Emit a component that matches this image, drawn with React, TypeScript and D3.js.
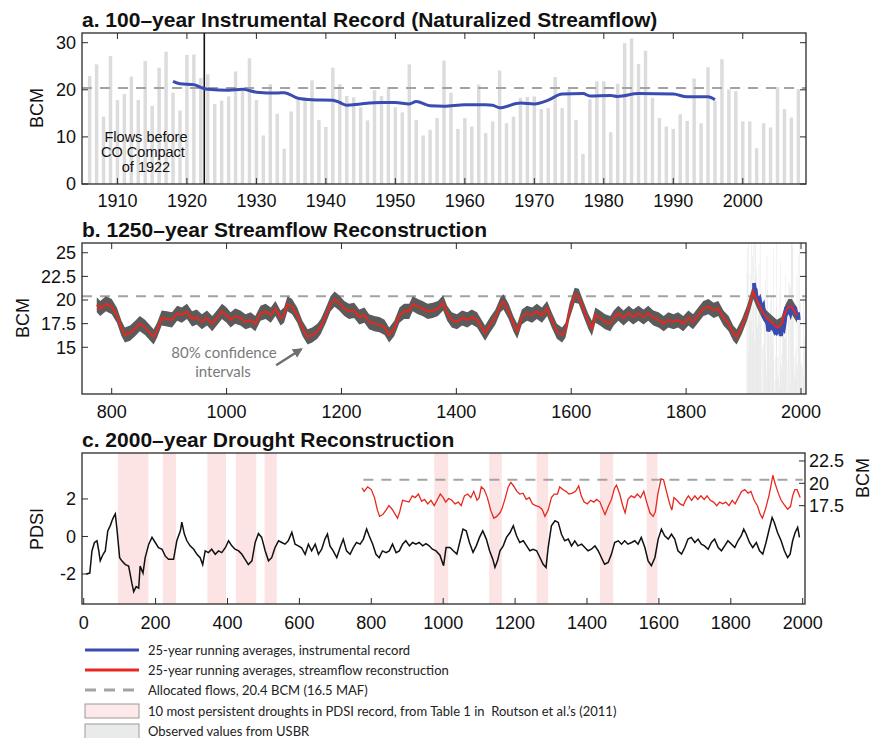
import React from "react";
import * as d3 from "d3";

// ---- data -----------------------------------------------------------------

// annual naturalized flow at Lees Ferry, BCM, one value per year from 1906
const observedStart = 1906;
const observedBCM = [
  22.9, 25.4, 14.3, 27.2, 17.8, 19.1, 22.8, 17.8, 26.1, 16.6, // 1906-1915
  24.7, 28.1, 19.4, 15.6, 27.4, 27.5, 22.5, 23.3, 17.0, 17.7, // 1916-1925
  18.6, 23.9, 19.8, 26.7, 17.8, 10.3, 21.2, 14.9, 7.5, 15.4,  // 1926-1935
  18.0, 17.8, 22.0, 13.6, 12.1, 24.7, 21.2, 18.7, 18.4, 16.3, // 1936-1945
  13.5, 19.9, 18.7, 20.6, 16.3, 15.2, 25.4, 13.6, 10.3, 11.5, // 1946-1955
  14.0, 26.2, 19.4, 11.7, 14.0, 12.2, 21.1, 10.8, 13.3, 24.1, // 1956-1965
  12.9, 14.3, 18.3, 18.5, 18.6, 15.9, 16.1, 22.7, 16.1, 20.1, // 1966-1975
  13.6, 6.4, 18.0, 21.8, 21.8, 11.0, 21.3, 29.9, 30.9, 25.5,  // 1976-1985
  28.3, 18.3, 14.0, 12.2, 11.7, 14.8, 13.4, 22.4, 12.9, 24.8, // 1986-1995
  17.6, 26.5, 20.1, 19.7, 13.3, 13.3, 7.6, 12.9, 12.0, 20.6,  // 1996-2005
  15.9, 14.1, 20.1,                                           // 2006-2008
];

// 25-year running average of the instrumental record [year, BCM]
const instrumentalAvg: [number, number][] = [
  [1918, 21.8], [1919, 21.3], [1921, 21.1], [1922, 20.5], [1923, 20.1],
  [1926, 19.9], [1928, 20.1], [1930, 19.5], [1933, 19.3], [1934, 19.4],
  [1936, 18.2], [1938, 17.9], [1941, 17.8], [1942, 17.3], [1943, 16.7],
  [1945, 17.0], [1948, 17.3], [1950, 17.3], [1952, 17.0], [1953, 17.5],
  [1955, 16.6], [1957, 16.5], [1960, 16.8], [1963, 16.8], [1964, 16.7],
  [1965, 16.2], [1968, 17.2], [1970, 17.0], [1972, 17.8], [1974, 19.1],
  [1977, 19.2], [1978, 18.7], [1981, 18.8], [1982, 18.6], [1985, 19.2],
  [1990, 19.1], [1992, 18.5], [1995, 18.5], [1996, 17.9],
];

// 25-year running average of the streamflow reconstruction [year, BCM]
const reconAvg: [number, number][] = [
  [774, 19.5], [780, 19.1], [790, 19.6], [800, 19.3], [809, 18.4], [817, 17.0],
  [823, 16.3], [832, 16.5], [841, 17.0], [849, 17.5], [858, 17.1], [867, 16.5],
  [873, 16.1], [879, 16.8], [887, 18.1], [896, 18.0], [905, 17.9], [914, 18.6],
  [922, 18.4], [931, 18.8], [940, 18.0], [948, 18.2], [957, 17.7], [966, 18.1],
  [975, 17.5], [983, 18.1], [992, 18.8], [1000, 18.4], [1007, 17.9], [1015, 18.3],
  [1024, 18.1], [1033, 17.7], [1042, 17.9], [1050, 17.5], [1059, 18.6], [1068, 18.8],
  [1077, 18.4], [1085, 19.1], [1094, 18.1], [1100, 18.4], [1106, 19.6], [1114, 19.3],
  [1123, 18.4], [1132, 17.0], [1141, 16.1], [1149, 16.3], [1158, 16.7], [1164, 17.2],
  [1173, 18.4], [1181, 19.6], [1188, 20.1], [1196, 19.7], [1205, 19.1], [1213, 18.8],
  [1222, 18.9], [1231, 18.2], [1240, 18.4], [1248, 17.7], [1257, 17.5], [1266, 17.4],
  [1275, 17.1], [1283, 16.3], [1292, 17.0], [1301, 18.4], [1309, 18.8], [1318, 18.8],
  [1324, 19.6], [1333, 19.3], [1341, 19.1], [1350, 18.8], [1359, 18.9], [1368, 19.1],
  [1377, 19.7], [1384, 18.6], [1392, 17.9], [1401, 17.7], [1410, 18.1], [1419, 17.9],
  [1427, 18.2], [1436, 17.9], [1445, 17.0], [1450, 16.5], [1459, 17.4], [1468, 18.2],
  [1477, 19.5], [1482, 19.8], [1491, 18.8], [1500, 17.4], [1506, 16.7], [1514, 18.2],
  [1523, 18.6], [1532, 18.4], [1540, 18.8], [1549, 18.4], [1558, 19.1], [1566, 17.9],
  [1575, 16.7], [1584, 16.3], [1590, 16.8], [1597, 18.8], [1606, 20.5], [1613, 20.4],
  [1621, 19.1], [1630, 17.7], [1636, 17.0], [1642, 18.4], [1650, 18.1], [1659, 17.7],
  [1668, 17.5], [1674, 18.1], [1682, 18.6], [1691, 18.1], [1700, 18.6], [1708, 18.2],
  [1717, 18.6], [1726, 18.2], [1734, 18.6], [1743, 18.1], [1752, 17.9], [1761, 17.5],
  [1769, 17.9], [1778, 17.7], [1786, 17.9], [1795, 17.5], [1804, 18.1], [1812, 17.7],
  [1821, 18.4], [1830, 19.1], [1839, 19.3], [1848, 18.9], [1856, 19.1], [1865, 18.1],
  [1874, 17.5], [1882, 16.5], [1888, 16.1], [1897, 17.2], [1906, 18.6], [1912, 19.8],
  [1917, 20.9], [1923, 20.0], [1932, 18.9], [1940, 18.1], [1949, 17.6], [1958, 17.1],
  [1966, 17.4], [1972, 18.6], [1978, 19.3], [1984, 19.3], [1989, 18.8], [1993, 18.4],
];
const reconCI = 0.8; // half-width of the 80% confidence band, BCM

// PDSI reconstruction [year, PDSI]
const pdsi: [number, number][] = [
  [7, -2.0], [17, -1.95], [23, -0.77], [30, -0.32], [37, -0.23], [42, -0.77],
  [46, -1.3], [54, -0.95], [60, -0.77], [67, 0.3], [74, 0.58], [79, 0.85],
  [83, 1.03], [88, 1.2], [93, 0.3], [100, -1.13], [106, -1.3], [116, -1.5],
  [125, -1.58], [134, -2.49], [139, -2.94], [146, -2.67], [153, -2.76], [157, -1.58],
  [165, -1.95], [171, -1.13], [181, -0.41], [190, -0.05], [199, -0.32], [208, -0.6],
  [218, -0.68], [227, -1.05], [236, -1.22], [250, -1.22], [259, -0.23], [269, 0.3],
  [273, 0.76], [280, 0.13], [287, -0.23], [296, -0.5], [306, -0.68], [315, -0.95],
  [324, -1.13], [331, -1.5], [338, -0.77], [347, -0.86], [356, -0.68], [366, -0.95],
  [375, -0.77], [384, -0.86], [394, -0.6], [403, -0.23], [412, -0.5], [421, -0.68],
  [431, -0.77], [440, -0.95], [449, -1.22], [458, -1.5], [468, -1.3], [477, -0.32],
  [486, 0.16], [495, -0.05], [505, -0.77], [514, -1.3], [523, -1.13], [532, -0.6],
  [542, -0.23], [551, -0.32], [560, -0.41], [569, -0.23], [579, 0.22], [588, -0.41],
  [597, -0.5], [606, -0.6], [616, -0.95], [625, -0.41], [634, -0.77], [644, -0.41],
  [653, -0.95], [662, -0.68], [671, -0.14], [678, 0.13], [685, -0.5], [694, -0.77],
  [704, -1.13], [713, -0.6], [722, -0.14], [731, -0.77], [741, -0.95], [750, -0.6],
  [759, -0.32], [769, -0.41], [778, -0.14], [787, 0.4], [794, 0.04], [804, -0.41],
  [813, -0.95], [822, -1.13], [831, -0.77], [841, -0.86], [850, -0.77], [859, -0.41],
  [869, -0.86], [878, -0.77], [887, -0.41], [896, -0.23], [906, -0.5], [915, -0.32],
  [924, -0.41], [933, -0.32], [943, -0.5], [952, -0.38], [961, -0.5], [970, -0.68],
  [980, -0.77], [991, -1.0], [1001, -1.56], [1008, -0.59], [1019, -0.59], [1028, -0.76],
  [1038, -0.94], [1047, -0.23], [1055, 0.39], [1064, 0.3], [1073, -0.32], [1083, -0.85],
  [1092, -0.5], [1101, -0.05], [1110, 0.3], [1120, -0.14], [1129, -0.76], [1138, -1.21],
  [1144, -1.65], [1151, -1.3], [1158, -0.76], [1167, -0.5], [1176, -0.05], [1186, 0.21],
  [1195, 0.57], [1204, 0.04], [1213, -0.32], [1223, -0.23], [1232, -0.5], [1241, -0.76],
  [1250, -0.68], [1260, -0.76], [1269, -1.12], [1278, -1.48], [1286, -1.65], [1292, -0.59],
  [1301, 0.57], [1311, 0.84], [1320, 0.75], [1329, 0.12], [1338, -0.23], [1348, -0.14],
  [1357, -0.5], [1366, -0.23], [1375, -0.5], [1385, -0.41], [1394, -0.59], [1403, -0.76],
  [1412, -0.68], [1422, -0.5], [1431, -0.76], [1440, -1.12], [1449, -1.48], [1459, -1.39],
  [1468, -0.94], [1477, -0.32], [1487, -0.23], [1496, -0.41], [1505, -0.23], [1514, -0.41],
  [1524, -0.32], [1533, -0.23], [1542, -0.41], [1551, -0.05], [1561, -0.59], [1570, -1.3],
  [1579, -1.56], [1589, -1.12], [1598, -0.14], [1607, 0.39], [1616, 0.04], [1626, -0.14],
  [1635, 0.12], [1644, -0.14], [1653, -0.76], [1663, -0.94], [1672, -0.59], [1681, -0.14],
  [1690, -0.05], [1700, -0.32], [1709, -0.14], [1718, -0.41], [1727, -0.5], [1737, -0.68],
  [1746, -0.32], [1755, -0.14], [1765, -0.59], [1774, -0.76], [1783, -0.5], [1792, -0.23],
  [1802, -0.41], [1811, -0.59], [1820, -0.23], [1829, 0.04], [1836, 0.39], [1843, 0.12],
  [1852, -0.32], [1861, -0.59], [1871, -0.32], [1880, -0.76], [1889, -0.94], [1898, -0.32],
  [1908, 0.48], [1915, 1.01], [1921, 0.75], [1930, 0.21], [1940, -0.23], [1949, -0.76],
  [1958, -1.12], [1965, -0.94], [1972, -0.23], [1979, 0.21], [1986, 0.48], [1991, -0.05],
];

// 10 most persistent droughts (start, end year)
const droughts: [number, number][] = [
  [95, 180], [220, 257], [344, 396], [423, 480], [503, 537],
  [975, 1014], [1128, 1163], [1260, 1292], [1436, 1473], [1566, 1596],
];

const allocatedBCM = 20.4;
const compactYear = 1922.5;

const aYearTicks = [1910, 1920, 1930, 1940, 1950, 1960, 1970, 1980, 1990, 2000];
const aBcmTicks = [0, 10, 20, 30];
const bYearTicks = [800, 1000, 1200, 1400, 1600, 1800, 2000];
const bBcmTicks = [15, 17.5, 20, 22.5, 25];
const cYearTicks = [0, 200, 400, 600, 800, 1000, 1200, 1400, 1600, 1800, 2000];
const cPdsiTicks = [-2, 0, 2];
const cBcmTicks = [17.5, 20, 22.5];

const titles = [
  "a. 100\u2013year Instrumental Record (Naturalized Streamflow)",
  "b. 1250\u2013year Streamflow Reconstruction",
  "c. 2000\u2013year Drought Reconstruction",
];
const compactNote = ["Flows before", "CO Compact", "of 1922"];
const legendLabels = [
  "25-year running averages, instrumental record",
  "25-year running averages, streamflow reconstruction",
  "Allocated flows, 20.4 BCM (16.5 MAF)",
  "10 most persistent droughts in PDSI record, from Table 1 in  Routson et al.\u2019s (2011)",
  "Observed values from USBR",
];

// ---- styling ---------------------------------------------------------------

const FONT = "'Liberation Sans', Arial, Helvetica, sans-serif";
const LFONT = "Lato, 'Open Sans', sans-serif";
const BLUE = "#3a4cb2";
const RED = "#e8281e";
const DASH = "#a3a3a3";
const BAR = "#dcdcdc";
const PINK = "#fce4e4";
const AX = "#2a2a2a";
const TICK = 6;

const L = 82, R = 806;

const fmt = (v: number) => (Number.isInteger(v) ? String(v) : v.toFixed(1));

function Frame({ top, bottom, right = R }: { top: number; bottom: number; right?: number }) {
  return (
    <rect x={L} y={top} width={right - L} height={bottom - top}
      fill="none" stroke={AX} strokeWidth={1.3} />
  );
}

function XTicks({ scale, ticks, top, bottom, labelY, topTicks = true }: any) {
  return (
    <g>
      {ticks.map((t: number) => (
        <g key={t}>
          <line x1={scale(t)} x2={scale(t)} y1={bottom} y2={bottom - TICK} stroke={AX} strokeWidth={1} />
          {topTicks && <line x1={scale(t)} x2={scale(t)} y1={top} y2={top + TICK} stroke={AX} strokeWidth={1} />}
          <text x={scale(t)} y={labelY} textAnchor="middle" fontFamily={FONT} fontSize={18} fill="#111">{t}</text>
        </g>
      ))}
    </g>
  );
}

function YTicks({ scale, ticks, right = R, side = "left", both = true }: any) {
  return (
    <g>
      {ticks.map((t: number) => (
        <g key={t}>
          {(side === "left" || both) && <line x1={L} x2={L + TICK} y1={scale(t)} y2={scale(t)} stroke={AX} strokeWidth={1} />}
          {(side === "right" || both) && <line x1={right} x2={right - TICK} y1={scale(t)} y2={scale(t)} stroke={AX} strokeWidth={1} />}
          {side === "left" ? (
            <text x={L - 6} y={scale(t)} dy="0.36em" textAnchor="end" fontFamily={FONT} fontSize={18} fill="#111">{fmt(t)}</text>
          ) : (
            <text x={right + 4} y={scale(t)} dy="0.36em" textAnchor="start" fontFamily={FONT} fontSize={18} fill="#111">{fmt(t)}</text>
          )}
        </g>
      ))}
    </g>
  );
}

function YLabel({ x, y, text }: { x: number; y: number; text: string }) {
  return (
    <text transform={`translate(${x},${y}) rotate(-90)`} textAnchor="middle" dy="0.36em"
      fontFamily={FONT} fontSize={18} fill="#111">{text}</text>
  );
}

function Title({ y, text }: { y: number; text: string }) {
  return <text x={L} y={y} fontFamily={FONT} fontWeight="bold" fontSize={21} fill="#111">{text}</text>;
}

// ---- panel a ---------------------------------------------------------------

function PanelA() {
  const top = 33, bottom = 184;
  const x = d3.scaleLinear().domain([1904.9, 2009.1]).range([L, R]);
  const y = d3.scaleLinear().domain([0, 32.06]).range([bottom, top]);
  const bw = (x(1) - x(0)) * 0.5;
  const line = d3.line<[number, number]>().x((d) => x(d[0])).y((d) => y(d[1])).curve(d3.curveMonotoneX);
  return (
    <g>
      <Title y={27} text={titles[0]} />
      {observedBCM.map((v, i) => (
        <rect key={i} x={x(observedStart + i) - bw / 2} y={y(v)} width={bw} height={y(0) - y(v)} fill={BAR} />
      ))}
      <line x1={L} x2={R} y1={y(allocatedBCM)} y2={y(allocatedBCM)} stroke={DASH} strokeWidth={2} strokeDasharray="10,8" />
      <line x1={x(compactYear)} x2={x(compactYear)} y1={top} y2={bottom} stroke="#111" strokeWidth={1.6} />
      <path d={line(instrumentalAvg) || ""} fill="none" stroke={BLUE} strokeWidth={3} />
      <g fontFamily={FONT} fontSize={14.5} textAnchor="middle" fill="#111">
        <text x={146} y={141.5}>{compactNote[0]}</text>
        <text x={143} y={156.5}>{compactNote[1]}</text>
        <text x={146} y={171.5}>{compactNote[2]}</text>
      </g>
      <Frame top={top} bottom={bottom} />
      <XTicks scale={x} ticks={aYearTicks} top={top} bottom={bottom} labelY={207} />
      <YTicks scale={y} ticks={aBcmTicks} />
      <YLabel x={37} y={108} text="BCM" />
    </g>
  );
}

// ---- panel b ---------------------------------------------------------------

function PanelB() {
  const top = 243, bottom = 394;
  const x = d3.scaleLinear().domain([748.3, 2008.7]).range([L, R]);
  const y = d3.scaleLinear().domain([10.06, 26.03]).range([bottom, top]);
  const band = d3.area<[number, number]>().x((d) => x(d[0]))
    .y0((d) => y(d[1] - reconCI)).y1((d) => y(d[1] + reconCI));
  const line = d3.line<[number, number]>().x((d) => x(d[0])).y((d) => y(d[1]));
  const bw = x(1) - x(0);
  const tipX = x(1135), tipY = y(15.0);
  return (
    <g>
      <Title y={237} text={titles[1]} />
      <defs>
        <clipPath id="clipB"><rect x={L} y={top} width={R - L} height={bottom - top} /></clipPath>
        <marker id="arrowB" viewBox="0 0 10 10" refX="8" refY="5" markerWidth="4" markerHeight="4" orient="auto">
          <path d="M0,0 L10,5 L0,10 z" fill="#6f6f6f" />
        </marker>
      </defs>
      <g clipPath="url(#clipB)">
        {observedBCM.map((v, i) => (
          <rect key={i} x={x(observedStart + i) - bw / 2} y={y(v)} width={bw * 0.7}
            height={bottom - y(v)} fill={BAR} opacity={0.9} />
        ))}
      </g>
      <line x1={L} x2={R} y1={y(allocatedBCM)} y2={y(allocatedBCM)} stroke={DASH} strokeWidth={2} strokeDasharray="10,8" />
      <path d={band(reconAvg) || ""} fill="#5b5b5b" />
      <path d={line(instrumentalAvg) || ""} fill="none" stroke={BLUE} strokeWidth={4} />
      <path d={line(reconAvg) || ""} fill="none" stroke={RED} strokeWidth={2} />
      <g fontFamily={LFONT} fontSize={15} textAnchor="middle" fill="#7a7a7a">
        <text x={224} y={358}>80% confidence</text>
        <text x={223} y={377}>intervals</text>
      </g>
      <line x1={tipX - 28} y1={tipY + 18} x2={tipX - 3} y2={tipY + 2} stroke="#6f6f6f" strokeWidth={2.5} markerEnd="url(#arrowB)" />
      <Frame top={top} bottom={bottom} />
      <XTicks scale={x} ticks={bYearTicks} top={top} bottom={bottom} labelY={418} />
      <YTicks scale={y} ticks={bBcmTicks} />
      <YLabel x={23} y={318} text="BCM" />
    </g>
  );
}

// ---- panel c ---------------------------------------------------------------

function PanelC() {
  const top = 453, bottom = 604, right = 805;
  const x = d3.scaleLinear().domain([-4.7, 2006.4]).range([L, right]);
  const y = d3.scaleLinear().domain([-3.6, 4.45]).range([bottom, top]);
  const yR = d3.scaleLinear().domain([6.5, 23.39]).range([bottom, top]);
  const pLine = d3.line<[number, number]>().x((d) => x(d[0])).y((d) => y(d[1]));
  const rLine = d3.line<[number, number]>().x((d) => x(d[0])).y((d) => yR(d[1]));
  return (
    <g>
      <Title y={447} text={titles[2]} />
      {droughts.map(([a, b], i) => (
        <rect key={i} x={x(a)} y={top} width={x(b) - x(a)} height={bottom - top} fill={PINK} />
      ))}
      <line x1={x(778)} x2={x(2000)} y1={yR(allocatedBCM)} y2={yR(allocatedBCM)} stroke={DASH} strokeWidth={2} strokeDasharray="10,8" />
      <path d={rLine(reconAvg) || ""} fill="none" stroke={RED} strokeWidth={1.3} />
      <path d={pLine(pdsi) || ""} fill="none" stroke="#111" strokeWidth={1.5} />
      <Frame top={top} bottom={bottom} right={right} />
      <XTicks scale={x} ticks={cYearTicks} top={top} bottom={bottom} labelY={629} topTicks={false} />
      <YTicks scale={y} ticks={cPdsiTicks} both={false} side="left" />
      <YTicks scale={yR} ticks={cBcmTicks} right={right} both={false} side="right" />
      <YLabel x={37} y={529} text="PDSI" />
      <YLabel x={863} y={478} text="BCM" />
    </g>
  );
}

// ---- legend ----------------------------------------------------------------

function Legend() {
  const rows = [650, 670, 690, 711, 731];
  const x0 = 85, x1 = 139;
  return (
    <g>
      <line x1={x0} x2={x1} y1={rows[0]} y2={rows[0]} stroke={BLUE} strokeWidth={3} />
      <line x1={x0} x2={x1} y1={rows[1]} y2={rows[1]} stroke={RED} strokeWidth={3} />
      <line x1={x0} x2={x1} y1={rows[2]} y2={rows[2]} stroke={DASH} strokeWidth={3} strokeDasharray="11,8" />
      <rect x={x0} y={rows[3] - 7} width={x1 - x0} height={14} fill="#fde9e9" stroke="#9a9a9a" strokeWidth={1} />
      <rect x={x0} y={rows[4] - 7} width={x1 - x0} height={16} fill="#e9ebeb" stroke="#9a9a9a" strokeWidth={1} />
      {legendLabels.map((t, i) => (
        <text key={i} x={148} y={rows[i]} dy="0.36em" fontFamily={LFONT} fontSize={13} fill="#222"
          style={{ whiteSpace: "pre" }}>{t}</text>
      ))}
    </g>
  );
}

export default function App() {
  return (
    <div style={{ position: "absolute", left: 0, top: 0 }}>
      <svg width={873} height={738} style={{ display: "block", background: "#fff" }}>
        <PanelA />
        <PanelB />
        <PanelC />
        <Legend />
      </svg>
    </div>
  );
}
